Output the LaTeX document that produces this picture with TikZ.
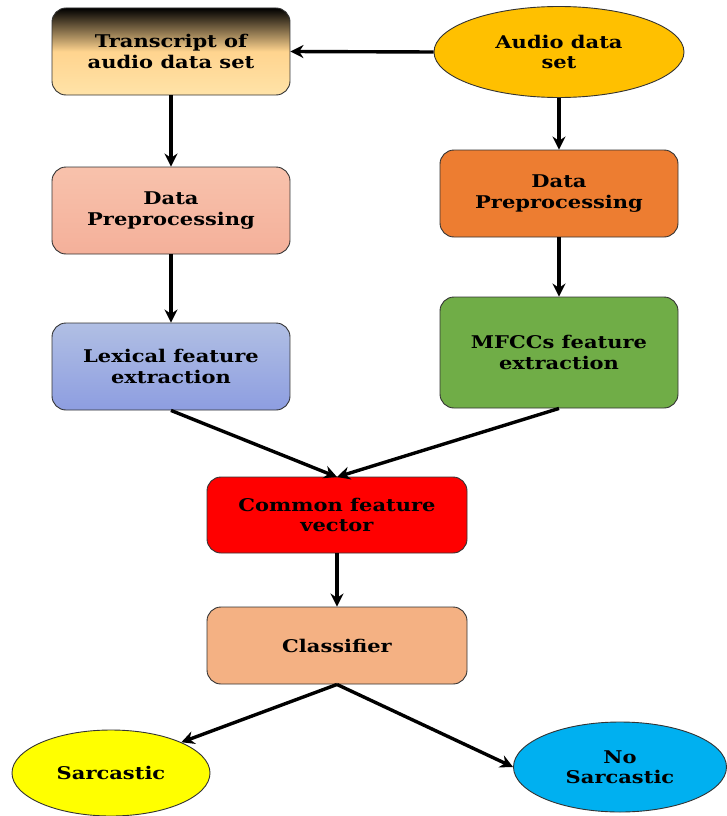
\documentclass[tikz,border=0pt]{standalone}
\usepackage{fontspec}
\setmainfont[FakeStretch=1.2]{DejaVu Serif}
\usetikzlibrary{shapes.geometric,arrows.meta}
\definecolor{audioc}{HTML}{FFC000}
\definecolor{transc}{HTML}{FFE3A8}
\definecolor{dpl}{HTML}{F4B09A}
\definecolor{dplb}{HTML}{F8C2AC}
\definecolor{dpr}{HTML}{ED7D31}
\definecolor{lexc}{HTML}{9DAFDD}
\definecolor{mfcc}{HTML}{70AD47}
\definecolor{commc}{HTML}{FF0000}
\definecolor{classc}{HTML}{F4B183}
\definecolor{sarc}{HTML}{FFFF00}
\definecolor{nosarc}{HTML}{00B0F0}
\tikzset{
  box/.style={draw=black!80, line width=0.9pt, rounded corners=14pt, align=center,
    font=\fontsize{17.5}{20.5}\selectfont\bfseries, inner sep=0pt},
  oval/.style={draw=black!80, line width=0.9pt, ellipse, align=center,
    font=\fontsize{17.5}{20.5}\selectfont\bfseries, inner sep=0pt},
  conn/.style={line width=3.4pt, -{Stealth[length=13pt,width=13pt]}}
}
\begin{document}
\begin{tikzpicture}[x=1pt,y=-1pt]
\useasboundingbox (0,0) rectangle (727,816);
\node[box, minimum width=238pt, minimum height=87pt, top color=black, bottom color=transc, middle color=transc!85!orange, shading angle=0] (tr) at (171,51.5) {Transcript of\\audio data set};
\node[oval, fill=audioc, minimum width=250pt, minimum height=91pt] (au) at (559,52) {Audio data\\set};
\node[box, minimum width=238pt, minimum height=87pt, top color=dplb, bottom color=dpl] (dl) at (171,210.5) {Data\\Preprocessing};
\node[box, minimum width=238pt, minimum height=87pt, fill=dpr] (dr) at (559,193.5) {Data\\Preprocessing};
\node[box, minimum width=238pt, minimum height=87pt, top color=lexc!80!white, bottom color=lexc!90!blue] (lx) at (171,366.5) {Lexical feature\\extraction};
\node[box, minimum width=238pt, minimum height=111pt, fill=mfcc] (mf) at (559,352.5) {MFCCs feature\\extraction};
\node[box, minimum width=260pt, minimum height=76pt, fill=commc] (cf) at (337,515) {Common feature\\vector};
\node[box, minimum width=260pt, minimum height=77pt, fill=classc] (cl) at (337,645.5) {Classifier};
\node[oval, fill=sarc, minimum width=198pt, minimum height=86pt] (sa) at (111,773) {Sarcastic};
\node[oval, fill=nosarc, minimum width=213pt, minimum height=90pt] (ns) at (620,767) {No\\Sarcastic};
\coordinate (m) at (337,477);
\draw[conn] (au.west) -- (tr.east);
\draw[conn] (tr.south) -- (dl.north);
\draw[conn] (dl.south) -- (lx.north);
\draw[conn] (au.south) -- (dr.north);
\draw[conn] (dr.south) -- (mf.north);
\draw[conn] (lx.south) -- (m);
\draw[conn] (mf.south) -- (m);
\draw[conn] (cf.south) -- (cl.north);
\draw[conn] (cl.south) -- (sa.north east);
\draw[conn] (cl.south) -- (ns.west);
\end{tikzpicture}
\end{document}
